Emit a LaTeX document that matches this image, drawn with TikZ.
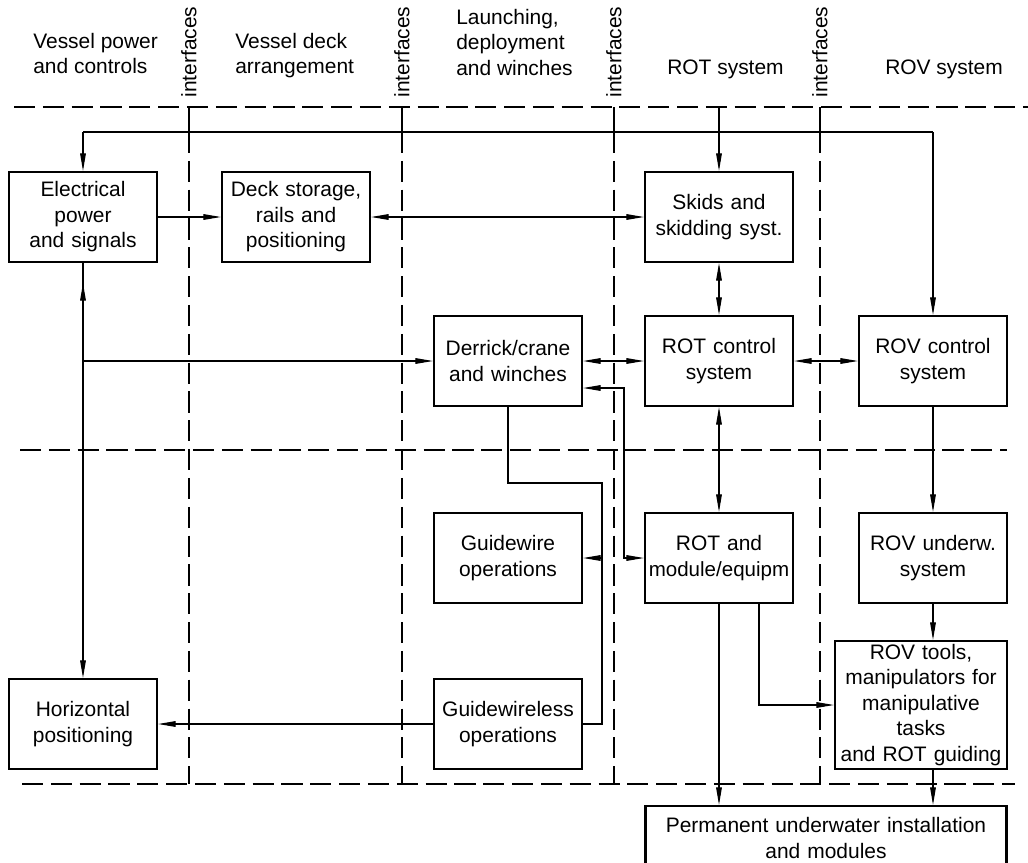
\documentclass[tikz,border=0pt]{standalone}
\usepackage{fontspec}
\setmainfont{Liberation Sans}
\usetikzlibrary{arrows.meta,calc,decorations.markings}

\tikzset{
 blk/.style={draw, line width=1.5pt, align=center, text width=3.7cm, minimum height=2.25cm, inner sep=0pt},
 hdr/.style={align=left, inner sep=0pt},
 conn/.style={line width=0.75pt},
 sep/.style={line width=0.9pt, dash pattern=on 15pt off 5.5pt},
}

\begin{document}
\begin{tikzpicture}[x=0.025cm, y=-0.025cm, >={Triangle[length=12.5pt,width=4pt]}, font=\fontsize{14.9}{18.1}\selectfont]
\useasboundingbox (0,0) rectangle (1028,863);

% column headings
\node[hdr, anchor=north west] (hpower) at (33,33) {Vessel power\\and controls};
\node[hdr, anchor=north west] (hdeck) at (235,33) {Vessel deck\\arrangement};
\node[hdr, anchor=north west] (hlaunch) at (456,9) {Launching,\\deployment\\and winches};
\node[hdr, anchor=base west] (hrot) at (667,74) {ROT system};
\node[hdr, anchor=base west] (hrov) at (885,74) {ROV system};

% separators
\draw[sep] (14,107) -- (1028,107);
\draw[sep] (20,450) -- (1007,450);
\draw[sep] (22,784) -- (1015,784);
\foreach \x/\n in {189/ifa,402/ifb,614/ifc,820/ifd} {
  \node[rotate=90, inner sep=0pt] (\n) at (\x,52) {interfaces};
  \draw[conn] (\x,107) -- (\x,132);
  \draw[sep] (\x,132) -- (\x,784);
}

% blocks
\node[blk] (elec) at (83,217) {Electrical\\power\\and signals};
\node[blk] (deck) at (296,217) {Deck storage,\\rails and\\positioning};
\node[blk] (skids) at (719,217) {Skids and\\skidding syst.};
\node[blk] (derrick) at (508,361) {Derrick/crane\\and winches};
\node[blk] (rotctl) at (719,361) {ROT control\\system};
\node[blk] (rovctl) at (933,361) {ROV control\\system};
\node[blk] (guidew) at (508,558) {Guidewire\\operations};
\node[blk] (rotmod) at (719,558) {ROT and\\{\fontsize{14.6}{18.1}\selectfont module/equipm}};
\node[blk] (rovuw) at (933,558) {ROV underw.\\system};
\node[blk, text width=4.3cm, minimum height=3.2cm] (rovtools) at (921,705) {ROV tools,\\manipulators for\\manipulative\\tasks\\and ROT guiding};
\node[blk] (horiz) at (83,724) {Horizontal\\positioning};
\node[blk] (guidewl) at (508,724) {Guidewireless\\operations};
\node[blk, text width=9.025cm, minimum height=1.6cm] (perm) at (826,838) {Permanent underwater installation\\and modules};

% connections
\coordinate (busL) at (83,132);
\coordinate (busR) at (933,132);
\coordinate (rotin) at (719,107);
\draw[conn] (busL) -- (busR);
\draw[conn,->] (busL) -- (elec.north);
\draw[conn,->] (busR) -- (rovctl.north);
\draw[conn,->] (rotin) -- (skids.north);
\draw[conn,->] (elec.east) -- (deck.west);
\draw[conn,<->] (deck.east) -- (skids.west);
\draw[conn,->,postaction={decorate},
  decoration={markings, mark=at position 0.5cm with {\arrowreversed{>}}}]
  (elec.south) -- (horiz.north);
\draw[conn,->] (elec.south |- derrick.west) -- (derrick.west);
\draw[conn,<->] (derrick.east) -- (rotctl.west);
\draw[conn,<->] (rotctl.east) -- (rovctl.west);
\draw[conn,<->] (skids.south) -- (rotctl.north);
\draw[conn,<->] (rotctl.south) -- (rotmod.north);
\draw[conn,->] (rovctl.south) -- (rovuw.north);
\draw[conn,->] (rovuw.south) -- (rovuw.south |- rovtools.north);
\coordinate (derlow) at ($(derrick.east)+(0,27)$);
\coordinate (jogA) at (624,558);
\draw[conn,<->] (derlow) -| (jogA) -- (rotmod.west);
\coordinate (jogB) at (602,483);
\draw[conn] (derrick.south) |- (jogB) |- (guidewl.east);
\draw[conn,->] (guidew.east -| jogB) -- (guidew.east);
\draw[conn,->] (guidewl.west) -- (horiz.east);
\coordinate (rotout) at ($(rotmod.south)+(40,0)$);
\draw[conn,->] (rotout) |- (rovtools.west);
\draw[conn,->] (rotmod.south) -- (rotmod.south |- perm.north);
\draw[conn,->] (rovtools.south -| rovuw.south) -- (perm.north -| rovuw.south);
\end{tikzpicture}
\end{document}
